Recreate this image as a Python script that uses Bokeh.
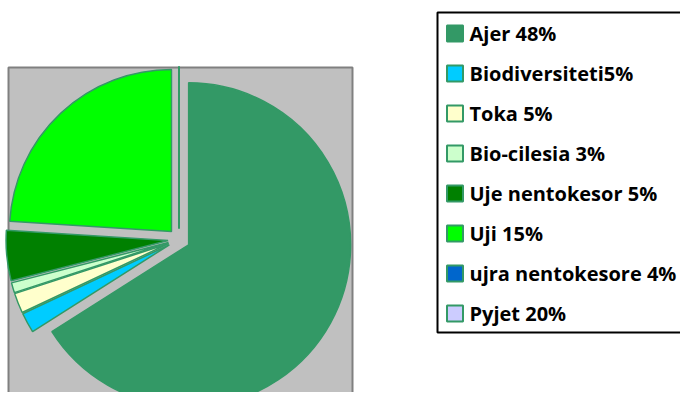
import numpy as np
from bokeh.plotting import figure
from bokeh.models import Range1d, ColumnDataSource
from bokeh.embed import file_html
from bokeh.resources import INLINE
from bokeh.core.properties import value

# ---- data ----
labels = ["Ajer 48%", "Biodiversiteti5%", "Toka 5%", "Bio-cilesia 3%",
          "Uje nentokesor 5%", "Uji 15%", "ujra nentokesore  4%", "Pyjet 20%"]
shares = [66, 2, 2, 1, 5, 24, 0, 0]
colors = ["#339966", "#00CCFF", "#FFFFCC", "#CCFFCC",
          "#008000", "#00FF00", "#0066CC", "#CCCCFF"]

# ---- layout (pixel-like data coordinates, y up: y = 408 - image_y) ----
W, H = 680, 392
p = figure(width=W, height=H, output_backend="svg", toolbar_location=None,
           x_range=Range1d(0, 680), y_range=Range1d(16, 408), min_border=0)
p.axis.visible = False
p.grid.visible = False
p.outline_line_color = None
p.background_fill_color = "white"

# plot area (grey box)
p.quad(left=[8], right=[352], bottom=[-40], top=[341],
       fill_color="#C0C0C0", line_color="#808080", line_width=2)

# pie
cx, cy, r, d = 178.5, 169.0, 162.0, 11.0
vals = np.array(shares, dtype=float)
frac = vals / vals.sum()
cum = np.concatenate([[0], np.cumsum(frac)])
start = np.pi / 2 - 2 * np.pi * cum[:-1]
end = np.pi / 2 - 2 * np.pi * cum[1:]
mid = (start + end) / 2
xs = cx + d * np.cos(mid)
ys = cy + d * np.sin(mid)

nz = vals > 0
src = ColumnDataSource(dict(x=xs[nz], y=ys[nz], s=start[nz], e=end[nz],
                            c=[c for c, k in zip(colors, nz) if k]))
p.wedge(x="x", y="y", radius=r, start_angle="s", end_angle="e",
        direction="clock", fill_color="c", line_color="#339966",
        line_width=1.5, source=src)

# zero-value slices drawn as their outline only
zx = xs[~nz]
zy = ys[~nz]
p.segment(x0=zx, y0=zy, x1=zx + r * np.cos(mid[~nz]), y1=zy + r * np.sin(mid[~nz]),
          line_color="#339966", line_width=2)

# legend box
p.quad(left=[437], right=[720], bottom=[76], top=[396],
       fill_color="white", line_color="black", line_width=2)
n = len(labels)
ly = 375 - 40 * np.arange(n)
p.scatter(x=[454.5] * n, y=ly, marker="square", size=16,
          fill_color=colors, line_color="#339966", line_width=2)
p.text(x=[469] * n, y=ly, text=labels, text_font=value("Open Sans"),
       text_font_style="bold", text_font_size="20px", text_color="black",
       text_baseline="middle", text_align="left")

open("out.html", "w").write(file_html(p, INLINE))
